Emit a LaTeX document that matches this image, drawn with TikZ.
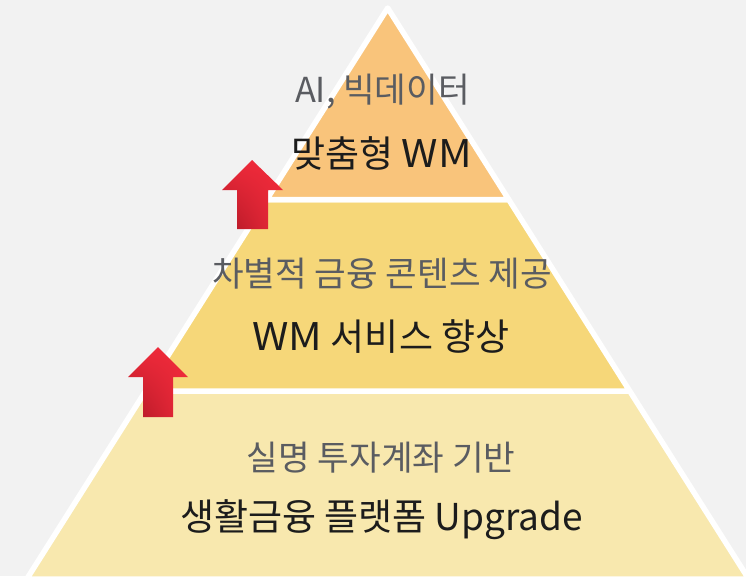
\documentclass[tikz,border=0pt]{standalone}
\usepackage{fontspec}
\setmainfont{Noto Sans CJK KR}
\usepackage{xcolor}
\usetikzlibrary{calc,shadings}
\definecolor{pagegray}{HTML}{F2F2F2}
\definecolor{layertop}{HTML}{F9C47B}
\definecolor{layermid}{HTML}{F6D779}
\definecolor{layerlow}{HTML}{F8E8AE}
\definecolor{capgray}{HTML}{5A5C61}
\definecolor{capblack}{HTML}{1C1C1C}
\definecolor{arrowred}{HTML}{EE2A3A}
\definecolor{arrowdark}{HTML}{AE1725}
\newcommand{\wmword}{\scalebox{1.12}[1.03]{WM}}
\tikzset{
	layer/.style={draw=white,line width=5.5pt,line join=round},
	subcap/.style={text=capgray,font=\fontsize{34.4}{38}\selectfont,inner sep=0pt},
	maincap/.style={text=capblack,font=\fontsize{37}{42}\selectfont,inner sep=0pt},
	uparrow/.style={lower left=arrowdark,upper right=arrowred,upper left=arrowred,lower right=arrowred}
}
\begin{document}
\begin{tikzpicture}[x=1pt,y=-1pt]
		\useasboundingbox (0,0) rectangle (746,576);
		\fill[pagegray] (0,0) rectangle (746,576);
		\clip (0,0) rectangle (746,576);

		\coordinate (A) at (387.7,8);
		\coordinate (AB) at (266.7,199.5);
		\coordinate (AC) at (508.7,199.5);
		\coordinate (ABA) at (145.6,391);
		\coordinate (ACA) at (629.7,391);
		\coordinate (ABB) at (26.8,579);
		\coordinate (ACB) at (748.7,579);

		% bottom layer first
		\draw[layer,fill=layerlow] (ABA)--(ACA)--(ACB)--(ABB)--cycle;
		\draw[layer,fill=layermid] (AB)--(AC)--(ACA)--(ABA)--cycle;
		\draw[layer,fill=layertop] (A)--(AC)--(AB)--cycle;

		\node[subcap] (topsub) at (382.5,92) {AI, 빅데이터};
		\node[maincap] (topmain) at (381.5,153) {맞춤형 \wmword};
		\node[subcap] (midsub) at (382,274) {차별적 금융 콘텐츠 제공};
		\node[maincap] (midmain) at (381,337) {\wmword{} 서비스 향상};
		\node[subcap] (lowsub) at (381,458) {실명 투자계좌 기반};
		\node[maincap] (lowmain) at (381.5,520) {생활금융 플랫폼 Upgrade};

		% arrows
		\shade[uparrow] (252,160)--(283,190)--(268,190)--(268,229)--(237,229)--(237,190)--(222,190)--cycle;
		\shade[uparrow] (158,347)--(188,377)--(173,377)--(173,417)--(143,417)--(143,377)--(128,377)--cycle;
\end{tikzpicture}
\end{document}
